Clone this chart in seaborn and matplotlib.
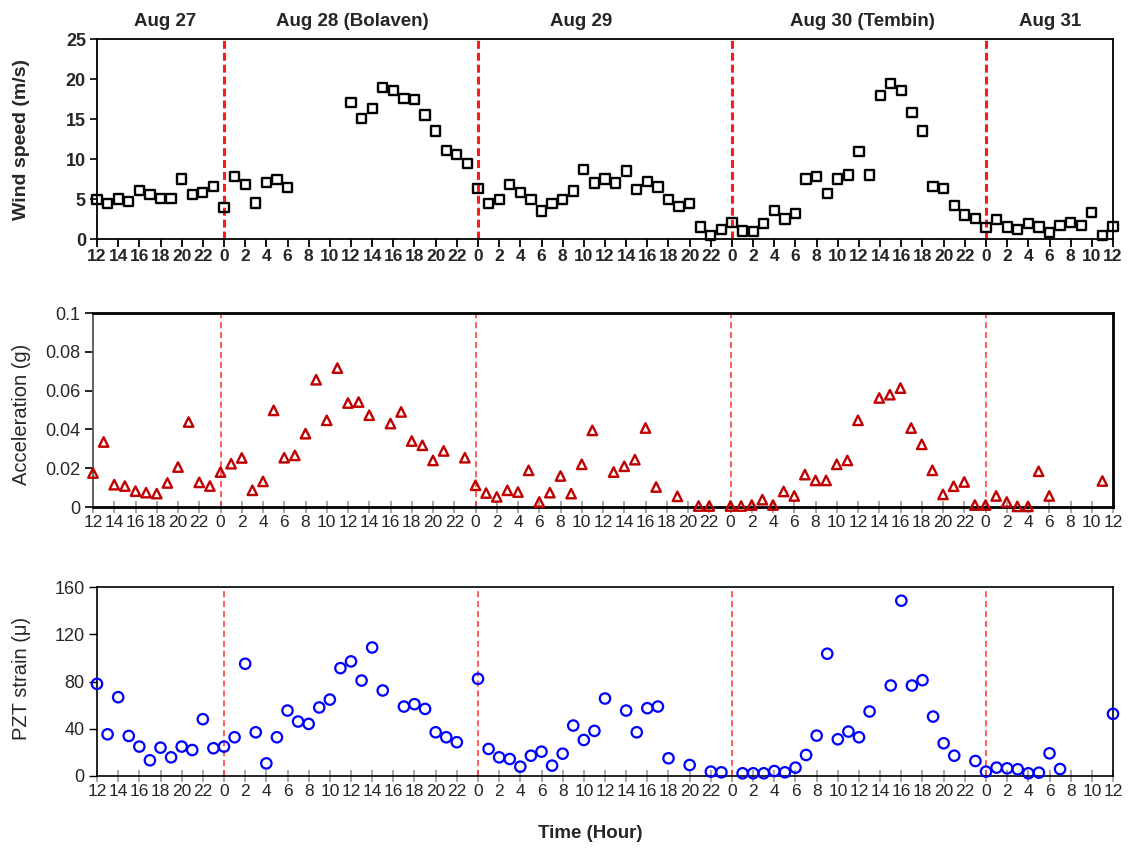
import matplotlib
matplotlib.use("Agg")
import matplotlib.pyplot as plt
from matplotlib import font_manager
import seaborn as sns
import pandas as pd

# ---------------- data ----------------
wind_hours = [0, 1, 2, 3, 4, 5, 6, 7, 8, 9, 10, 11, 12, 13, 14, 15, 16, 17, 18,
              24, 25, 26, 27, 28, 29, 30, 31, 32, 33, 34, 35, 36, 37, 38, 39, 40,
              41, 42, 43, 44, 45, 46, 47, 48, 49, 50, 51, 52, 53, 54, 55, 56, 57,
              58, 59, 60, 61, 62, 63, 64, 65, 66, 67, 68, 69, 70, 71, 72, 73, 74,
              75, 76, 77, 78, 79, 80, 81, 82, 83, 84, 85, 86, 87, 88, 89, 90, 91,
              92, 93, 94, 95, 96]
wind_speed = [4.9, 4.4, 5.0, 4.7, 6.1, 5.6, 5.1, 5.1, 7.5, 5.6, 5.8, 6.6, 3.9, 7.8,
              6.8, 4.5, 7.1, 7.4, 6.4,
              17.1, 15.1, 16.3, 18.9, 18.6, 17.6, 17.4, 15.5, 13.5, 11.1, 10.6, 9.4,
              6.3, 4.4, 4.9, 6.8, 5.8, 4.9, 3.5, 4.4, 4.9, 6.0, 8.7, 7.0, 7.5, 7.0,
              8.5, 6.2, 7.2, 6.5, 4.9, 4.1, 4.4, 1.5, 0.4, 1.2, 2.1, 1.0, 0.9, 1.9,
              3.6, 2.5, 3.2, 7.5, 7.8, 5.7, 7.5, 8.0, 10.9, 8.0, 17.9, 19.4, 18.6,
              15.8, 13.5, 6.6, 6.3, 4.2, 3.0, 2.6, 1.4, 2.4, 1.5, 1.2, 1.9, 1.5, 0.8,
              1.7, 2.1, 1.7, 3.3, 0.4, 1.6]

acc_hours = [0, 1, 2, 3, 4, 5, 6, 7, 8, 9, 10, 11, 12, 13, 14, 15, 16, 17, 18, 19,
             20, 21, 22, 23, 24, 25, 26, 28, 29, 30, 31, 32, 33, 35, 36, 37, 38, 39,
             40, 41, 42, 43, 44, 45, 46, 47, 49, 50, 51, 52, 53, 55, 57, 58, 60, 61,
             62, 63, 64, 65, 66, 67, 68, 69, 70, 71, 72, 74, 75, 76, 77, 78, 79, 80,
             81, 82, 83, 84, 85, 86, 87, 88, 89, 90, 95]
acceleration = [0.0175, 0.0335, 0.0115, 0.0108, 0.0082, 0.0074, 0.0069, 0.0124,
                0.0206, 0.0438, 0.0127, 0.0108, 0.0180, 0.0223, 0.0253, 0.0086,
                0.0132, 0.0498, 0.0254, 0.0266, 0.0378, 0.0656, 0.0447, 0.0716,
                0.0536, 0.0541, 0.0473, 0.0430, 0.0490, 0.0340, 0.0318, 0.0240,
                0.0289, 0.0254, 0.0112, 0.0072, 0.0052, 0.0086, 0.0077, 0.0189,
                0.0026, 0.0074, 0.0160, 0.0069, 0.0220, 0.0395, 0.0180, 0.0210,
                0.0244, 0.0407, 0.0103, 0.0055, 0.0005, 0.0005, 0.0005, 0.0005,
                0.0010, 0.0038, 0.0010, 0.0080, 0.0057, 0.0167, 0.0137, 0.0137,
                0.0220, 0.0240, 0.0447, 0.0562, 0.0579, 0.0613, 0.0407, 0.0323,
                0.0189, 0.0065, 0.0107, 0.0129, 0.0010, 0.0010, 0.0057, 0.0026,
                0.0003, 0.0003, 0.0184, 0.0057, 0.0134]

strain_hours = [0, 1, 2, 3, 4, 5, 6, 7, 8, 9, 10, 11, 12, 13, 14, 15, 16, 17, 18,
                19, 20, 21, 22, 23, 24, 25, 26, 27, 29, 30, 31, 32, 33, 34, 36, 37,
                38, 39, 40, 41, 42, 43, 44, 45, 46, 47, 48, 50, 51, 52, 53, 54, 56,
                58, 59, 61, 62, 63, 64, 65, 66, 67, 68, 69, 70, 71, 72, 73, 75, 76,
                77, 78, 79, 80, 81, 83, 84, 85, 86, 87, 88, 89, 90, 91, 96]
pzt_strain = [78.0, 35.3, 66.7, 33.9, 24.9, 13.3, 24.0, 15.8, 24.9, 22.0, 48.1,
              23.5, 24.9, 32.8, 95.0, 37.0, 10.7, 32.8, 55.4, 46.1, 44.1, 58.0,
              64.7, 91.3, 97.0, 80.8, 108.8, 72.4, 58.8, 60.8, 56.8, 37.0, 32.8,
              28.6, 82.3, 22.9, 15.8, 14.4, 7.9, 17.2, 20.6, 8.8, 18.9, 42.7, 30.5,
              38.2, 65.6, 55.4, 37.0, 57.4, 58.8, 15.0, 9.3, 3.7, 3.1, 2.3, 2.3,
              2.3, 4.2, 3.1, 7.1, 17.8, 34.2, 103.5, 31.1, 37.6, 32.8, 54.6, 76.6,
              148.4, 76.6, 81.1, 50.3, 27.7, 17.2, 12.7, 3.7, 7.1, 6.5, 5.7, 2.3,
              2.8, 19.2, 5.9, 52.6]

tick_hours = list(range(0, 97, 2))
tick_labels = (["12", "14", "16", "18", "20", "22"]
               + ["0", "2", "4", "6", "8", "10", "12", "14", "16", "18", "20", "22"] * 3
               + ["0", "2", "4", "6", "8", "10", "12"])
day_boundaries = [12, 36, 60, 84]
day_names = ["Aug 27", "Aug 28 (Bolaven)", "Aug 29", "Aug 30 (Tembin)", "Aug 31"]
day_label_pos = [6.4, 24.1, 45.7, 72.3, 90.1]

wind_df = pd.DataFrame({"hour": wind_hours, "speed": wind_speed})
acc_df = pd.DataFrame({"hour": acc_hours, "acc": acceleration})
strain_df = pd.DataFrame({"hour": strain_hours, "strain": pzt_strain})

# ---------------- style ----------------
sns.set_theme(style="white")
plt.rcParams['font.family'] = ['Liberation Sans', 'DejaVu Sans']
names = {f.name for f in font_manager.fontManager.ttflist}
narrow = 'Liberation Sans Narrow' if 'Liberation Sans Narrow' in names else 'Liberation Sans'

W, H = 1130, 850
fig = plt.figure(figsize=(W / 100, H / 100), dpi=100)
fig.patch.set_facecolor("white")


def box(l, t, r, b):
    return [l / W, 1 - b / H, (r - l) / W, (b - t) / H]


ax1 = fig.add_axes(box(97, 39, 1113, 239))
ax2 = fig.add_axes(box(93, 313, 1113, 507))
ax3 = fig.add_axes(box(97, 587, 1113, 776))

# ---------------- marks ----------------
sns.scatterplot(data=wind_df, x="hour", y="speed", ax=ax1, marker="s", s=44,
                facecolor="none", edgecolor="black", linewidth=1.7,
                clip_on=False, zorder=3, legend=False)
sns.scatterplot(data=acc_df, x="hour", y="acc", ax=ax2, marker="^", s=46,
                facecolor="none", edgecolor="#C00000", linewidth=1.7,
                clip_on=False, zorder=3, legend=False)
sns.scatterplot(data=strain_df, x="hour", y="strain", ax=ax3, marker="o", s=56,
                facecolor="none", edgecolor="#0000FF", linewidth=1.6,
                clip_on=False, zorder=3, legend=False)

for d in day_boundaries:
    ax1.axvline(d, color="#FF1A1A", lw=2.2, ls=(0, (2.6, 1.3)), zorder=2)
    ax2.axvline(d, color="#FF3030", lw=1.1, ls=(0, (4, 2.5)), zorder=2)
    ax3.axvline(d, color="#FF3030", lw=1.1, ls=(0, (4, 2.5)), zorder=2)

# ---------------- axes ----------------
for ax in (ax1, ax2, ax3):
    ax.set_xlim(0, 96)
    ax.set_xticks(tick_hours)
    ax.set_xlabel("")
    ax.set_ylabel("")
    ax.grid(False)
    for sp in ax.spines.values():
        sp.set_color("black")

ax1.set_ylim(0, 25)
ax1.set_yticks([0, 5, 10, 15, 20, 25])
ax1.set_yticklabels(["0", "5", "10", "15", "20", "25"], fontsize=13, fontweight="bold")
ax1.set_xticklabels(tick_labels, fontsize=12.5, fontweight="bold", family=narrow)
ax1.tick_params(axis="x", bottom=True, direction="out", length=6, width=1.3,
                color="black", pad=1)
ax1.tick_params(axis="y", left=True, direction="out", length=5, width=1.2,
                color="black", pad=3)
for sp in ax1.spines.values():
    sp.set_linewidth(1.3)

ax2.set_ylim(0, 0.1)
ax2.set_yticks([0, 0.02, 0.04, 0.06, 0.08, 0.1])
ax2.set_yticklabels(["0", "0.02", "0.04", "0.06", "0.08", "0.1"], fontsize=13)
ax2.set_xticklabels(tick_labels, fontsize=12.5, family=narrow)
ax2.tick_params(axis="x", bottom=True, direction="inout", length=8, width=1.2,
                color="#9a9a9a", pad=2)
ax2.tick_params(axis="y", left=True, direction="out", length=6, width=1.2,
                color="black", pad=3)
for sp in ax2.spines.values():
    sp.set_linewidth(2.0)
ax2.spines["left"].set_linewidth(1.3)
ax2.spines["left"].set_color("#555555")

ax3.set_ylim(0, 160)
ax3.set_yticks([0, 40, 80, 120, 160])
ax3.set_yticklabels(["0", "40", "80", "120", "160"], fontsize=13)
ax3.set_xticklabels(tick_labels, fontsize=12.5, family=narrow)
ax3.tick_params(axis="x", bottom=True, direction="inout", length=8, width=1.2,
                color="#9a9a9a", pad=2)
ax3.tick_params(axis="y", left=True, direction="out", length=6, width=1.0,
                color="black", pad=3)
for sp in ax3.spines.values():
    sp.set_linewidth(1.2)

# ---------------- texts ----------------
for name, pos in zip(day_names, day_label_pos):
    ax1.text(pos, 1.085, name, transform=ax1.get_xaxis_transform(), ha="center",
             va="center", fontsize=13.5, fontweight="bold")

fig.text(22 / W, 1 - 139 / H, "Wind speed (m/s)", rotation=90, ha="center",
         va="center", fontsize=14, fontweight="bold")
fig.text(22 / W, 1 - 414 / H, "Acceleration (g)", rotation=90, ha="center",
         va="center", fontsize=14.5)
fig.text(22 / W, 1 - 678 / H, "PZT strain (\u03bc)", rotation=90, ha="center",
         va="center", fontsize=14.5)
fig.text(590 / W, 1 - 834 / H, "Time (Hour)", ha="center", va="center",
         fontsize=13.5, fontweight="bold")

fig.savefig("out.png", dpi=100, facecolor="white")
